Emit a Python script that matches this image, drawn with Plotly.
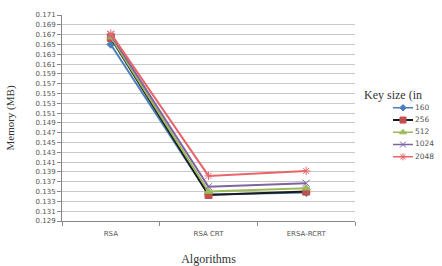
import plotly.graph_objects as go

categories = ["RSA", "RSA CRT", "ERSA-RCRT"]
key_sizes = ["160", "256", "512", "1024", "2048"]
mem_160 = [0.1650, 0.1344, 0.1348]
mem_256 = [0.1663, 0.1343, 0.1350]
mem_512 = [0.1665, 0.1350, 0.1357]
mem_1024 = [0.1670, 0.1360, 0.1367]
mem_2048 = [0.1672, 0.1382, 0.1392]
y_ticks = [round(0.129 + 0.002 * i, 3) for i in range(22)]

series = [mem_160, mem_256, mem_512, mem_1024, mem_2048]
line_colors = ["#4a7ebb", "#1a1a1a", "#9bbb59", "#8064a2", "#e8666a"]
marker_colors = ["#4a7ebb", "#c0504d", "#9bbb59", "#8064a2", "#e8666a"]
symbols = ["diamond", "square", "triangle-up", "x-thin", "asterisk"]
msizes = [6, 7, 7, 7, 7]

W, H = 442, 266
L, T, B = 62, 15, 39
plot_right = 355
paper_w = W - L
paper_h = H - T - B

fig = go.Figure()
for name, vals, lc, mc, sym, ms in zip(key_sizes, series, line_colors, marker_colors, symbols, msizes):
    fig.add_trace(go.Scatter(
        x=categories, y=vals, name=name, mode="lines+markers", showlegend=False,
        line=dict(color=lc, width=2),
        marker=dict(symbol=sym, size=ms, color=mc, line=dict(color=mc, width=1)),
    ))

# compact legend drawn on its own small axes
for i, (name, lc, mc, sym, ms) in enumerate(zip(key_sizes, line_colors, marker_colors, symbols, msizes)):
    fig.add_trace(go.Scatter(
        x=[0, 0.5, 1], y=[i, i, i], mode="lines", xaxis="x2", yaxis="y2",
        line=dict(color=lc, width=1.5 if i != 1 else 2), showlegend=False, hoverinfo="skip"))
    fig.add_trace(go.Scatter(
        x=[0.5], y=[i], mode="markers", xaxis="x2", yaxis="y2",
        marker=dict(symbol=sym, size=ms - 1, color=mc, line=dict(color=mc, width=1)),
        showlegend=False, hoverinfo="skip", cliponaxis=False))
    fig.add_trace(go.Scatter(
        x=[1.1], y=[i], mode="text", text=[name], textposition="middle right",
        xaxis="x2", yaxis="y2", cliponaxis=False, showlegend=False, hoverinfo="skip",
        textfont=dict(family="DejaVu Sans", size=7.5, color="#555")))

row0, row_step = 110.5, 12.6
leg_top, leg_bot = 103, 168
leg_x0, leg_x1 = 393, 413
fig.update_layout(
    width=W, height=H,
    margin=dict(l=L, r=0, t=T, b=B),
    paper_bgcolor="white", plot_bgcolor="white",
    showlegend=False,
    font=dict(family="DejaVu Sans", size=7, color="#444"),
    xaxis2=dict(domain=[(leg_x0 - L) / paper_w, 1], range=[0, (W - leg_x0) / (leg_x1 - leg_x0)],
                visible=False, anchor="y2"),
    yaxis2=dict(domain=[(H - B - leg_bot) / paper_h, (H - B - leg_top) / paper_h],
                range=[(leg_bot - row0) / row_step, (leg_top - row0) / row_step],
                visible=False, anchor="x2"),
    yaxis=dict(
        range=[0.129, 0.171], tickvals=y_ticks, tickformat=".3f",
        showgrid=True, gridcolor="#c8c8c8", gridwidth=1,
        showline=True, linecolor="#888", linewidth=1,
        ticks="outside", ticklen=4, tickcolor="#888",
        tickfont=dict(family="DejaVu Sans", size=7, color="#555"),
        title=dict(text="Memory (MB)", font=dict(family="Liberation Serif", size=11, color="#333"), standoff=18),
        zeroline=False,
    ),
    xaxis=dict(
        domain=[0, (plot_right - L) / paper_w], range=[-0.5, 2.5],
        showline=True, linecolor="#888", linewidth=1,
        ticks="outside", ticklen=4, tickcolor="#888", tickson="boundaries",
        ticklabelstandoff=6,
        tickfont=dict(family="DejaVu Sans", size=7, color="#555"),
        title=dict(text="Algorithms", font=dict(family="Liberation Serif", size=12, color="#333"), standoff=19),
        showgrid=False,
    ),
)
fig.add_annotation(text="Key size (in", xref="paper", yref="paper",
                   x=(362 - L) / paper_w, y=(H - B - 97) / paper_h, xanchor="left", yanchor="middle",
                   showarrow=False, font=dict(family="Liberation Serif", size=12, color="#333"))

fig.write_html("out.html")
